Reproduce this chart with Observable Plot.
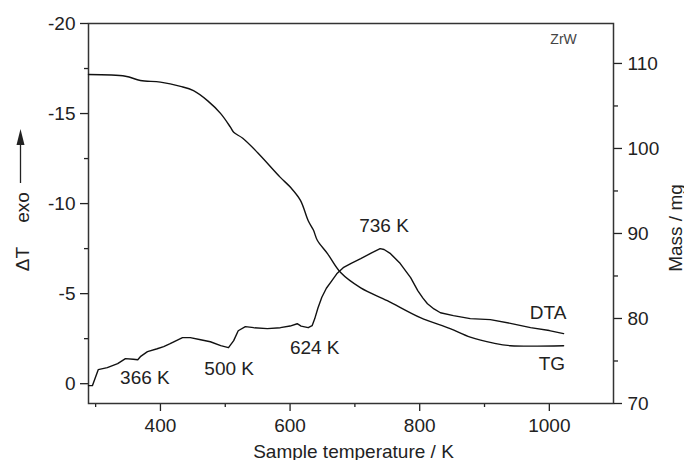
<!DOCTYPE html>
<html><head><meta charset="utf-8">
<script src="https://cdn.jsdelivr.net/npm/d3@7"></script>
<script src="https://cdn.jsdelivr.net/npm/@observablehq/plot@0.6"></script>
<style>
html,body{margin:0;padding:0;background:#fff;}
#chart{position:relative;width:684px;height:460px;background:#fff;}
#chart svg{position:absolute;left:0;top:0;}
</style></head><body><div id="chart"></div>
<script>
// DTA curve: sample temperature (K) and ΔT
const tempDTA = [289, 295, 304, 318, 334, 346, 358, 365, 369, 380, 395, 405, 415, 434, 446, 462, 477, 493, 505, 513, 520, 531, 544, 565, 585, 600, 611, 617, 628, 634, 638, 643, 649, 656, 664, 672, 682, 695, 709, 725, 739, 745, 755, 770, 786, 797, 805, 812, 822, 832, 852, 878, 909, 940, 971, 1000, 1022];
const dta     = [0.11, 0.11, -0.78, -0.89, -1.11, -1.39, -1.36, -1.33, -1.50, -1.78, -1.94, -2.06, -2.22, -2.56, -2.56, -2.44, -2.33, -2.11, -2.00, -2.39, -2.94, -3.17, -3.11, -3.06, -3.11, -3.20, -3.33, -3.20, -3.11, -3.22, -3.60, -4.20, -4.80, -5.30, -5.70, -6.10, -6.44, -6.70, -6.94, -7.25, -7.50, -7.45, -7.22, -6.67, -5.89, -5.17, -4.75, -4.44, -4.15, -3.94, -3.78, -3.61, -3.56, -3.35, -3.11, -2.95, -2.78];
// TG curve: sample temperature (K) and mass (mg)
const tempTG = [289, 346, 369, 400, 431, 451, 473, 493, 508, 513, 527, 550, 585, 601, 616, 628, 636, 642, 658, 678, 709, 750, 801, 847, 878, 914, 940, 1022];
const mass   = [108.7, 108.5, 108.0, 107.8, 107.3, 106.8, 105.6, 104.1, 102.5, 101.9, 101.2, 99.5, 96.6, 95.4, 93.9, 91.5, 90.4, 89.2, 87.6, 85.4, 83.6, 82.1, 80.1, 78.8, 77.8, 77.1, 76.8, 76.8];
// tick values
const xMajor = [400, 600, 800, 1000];
const xMinor = [300, 500, 700, 900];
const yMajor = [-20, -15, -10, -5, 0];
const yMinor = [-17.5, -12.5, -7.5, -2.5];
const mMajor = [70, 80, 90, 100, 110];
const mMinor = [75, 85, 95, 105];
// annotations (on DTA scale)
const annoText = ["366 K", "500 K", "624 K", "736 K", "DTA"];
const annoT    = [376, 506, 638, 745, 998];
const annoV    = [-0.33, -0.81, -1.97, -8.78, -3.92];

const W = 684, H = 460;
const margins = {marginTop: 23, marginRight: 71, marginBottom: 57, marginLeft: 88};
const font = "'Liberation Sans', Arial, Helvetica, sans-serif";
const ink = "#222";
const style = {fontFamily: font, fontSize: "19px", color: ink, background: "transparent"};
const xDomain = [289, 1099];

const dtaRows = tempDTA.map((t, i) => ({t, v: dta[i]}));
const tgRows = tempTG.map((t, i) => ({t, m: mass[i]}));
const annoRows = annoText.map((s, i) => ({s, t: annoT[i], v: annoV[i]}));

const p1 = Plot.plot({
  width: W, height: H, ...margins, style,
  x: {domain: xDomain},
  y: {domain: [-20, 1.1], reverse: true},
  marks: [
    Plot.axisX(xMajor, {tickSize: 8, tickPadding: 7, tickFormat: d => String(d), label: null, strokeWidth: 1.3, fontSize: 19}),
    Plot.axisX(xMinor, {tickSize: 4, tickFormat: () => "", label: null, strokeWidth: 1.3}),
    Plot.axisY(yMajor, {tickSize: 8, tickPadding: 5, tickFormat: d => String(d), label: null, strokeWidth: 1.3, fontSize: 19}),
    Plot.axisY(yMinor, {tickSize: 4, tickFormat: () => "", label: null, strokeWidth: 1.3}),
    Plot.frame({stroke: "#333", strokeWidth: 1.5}),
    Plot.line(dtaRows, {x: "t", y: "v", stroke: "#111", strokeWidth: 1.4}),
    Plot.text(annoRows, {x: "t", y: "v", text: "s", fontSize: 19, fill: ink}),
    Plot.text(["ZrW"], {x: [1022], y: [-19.11], fontSize: 14, fill: "#444"}),
    Plot.text(["Sample temperature / K"], {frameAnchor: "bottom", dx: 2.5, dy: 54, lineAnchor: "bottom", textAnchor: "middle", fontSize: 19, fill: ink}),
    Plot.text(["\u0394T"], {frameAnchor: "left", dx: -60, dy: 45.5, rotate: -90, lineAnchor: "bottom", textAnchor: "middle", fontSize: 19, fill: ink}),
    Plot.text(["exo"], {frameAnchor: "left", dx: -60, dy: -6, rotate: -90, lineAnchor: "bottom", textAnchor: "middle", fontSize: 19, fill: ink})
  ]
});

const p2 = Plot.plot({
  width: W, height: H, ...margins, style,
  x: {domain: xDomain, axis: null},
  y: {domain: [70, 114.7]},
  marks: [
    Plot.axisY(mMajor, {anchor: "right", tickSize: 8, tickPadding: 6, tickFormat: d => String(d), label: null, strokeWidth: 1.3, fontSize: 19}),
    Plot.axisY(mMinor, {anchor: "right", tickSize: 4, tickFormat: () => "", label: null, strokeWidth: 1.3}),
    Plot.line(tgRows, {x: "t", y: "m", stroke: "#111", strokeWidth: 1.4, curve: "catmull-rom"}),
    Plot.text(["TG"], {x: [1004], y: [74.6], fontSize: 19, fill: ink}),
    Plot.text(["Mass / mg"], {frameAnchor: "right", dx: 68, dy: 14.5, rotate: -90, lineAnchor: "bottom", textAnchor: "middle", fontSize: 19, fill: ink})
  ]
});

const chart = document.getElementById("chart");
chart.appendChild(p1);
chart.appendChild(p2);

// arrow next to "exo" (part of the axis label)
const s1 = d3.select(p1);
s1.append("line").attr("x1", 20.5).attr("x2", 20.5).attr("y1", 183).attr("y2", 142)
  .attr("stroke", ink).attr("stroke-width", 1.3);
s1.append("path").attr("d", "M20.5,129 L16.5,145 L24.5,145 Z").attr("fill", ink);
</script></body></html>
